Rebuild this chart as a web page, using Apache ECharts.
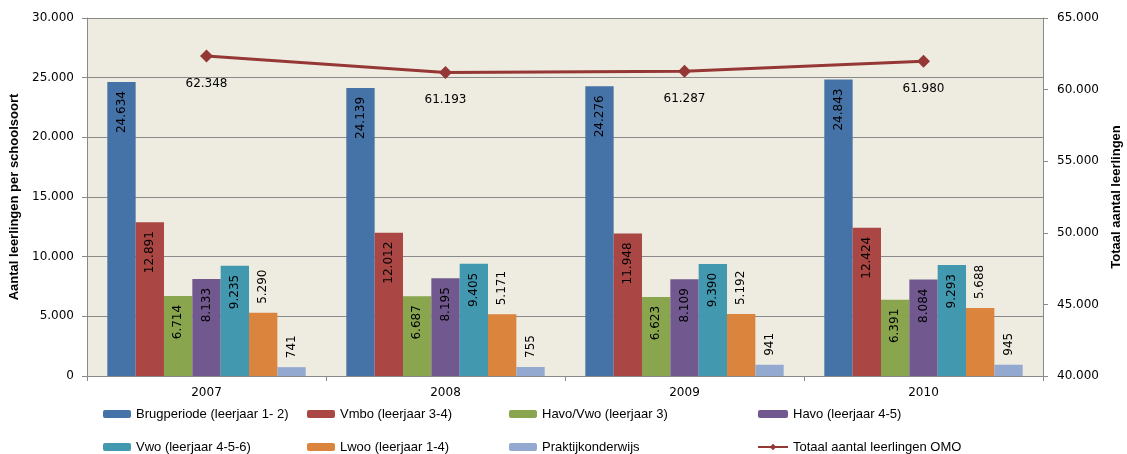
<!DOCTYPE html>
<html>
<head>
<meta charset="utf-8">
<script src="https://cdn.jsdelivr.net/npm/echarts@6/dist/echarts.min.js"></script>
<style>
  html, body { margin: 0; padding: 0; background: #fff; }
  #chart { width: 1127px; height: 454px; }
</style>
</head>
<body>
<div id="chart"></div>
<script>
const years = ['2007', '2008', '2009', '2010'];
const brugperiode = [24634, 24139, 24276, 24843];
const vmbo = [12891, 12012, 11948, 12424];
const havoVwo = [6714, 6687, 6623, 6391];
const havo = [8133, 8195, 8109, 8084];
const vwo = [9235, 9405, 9390, 9293];
const lwoo = [5290, 5171, 5192, 5688];
const praktijk = [741, 755, 941, 945];
const totaal = [62348, 61193, 61287, 61980];

const FONT = 'Liberation Sans';
const NUM_FONT = 'DejaVu Sans';
const GRID_COLOR = '#8a8a8a';

// 12345 -> "12.345"
var fmt = function(n) {
    return String(n).replace(/\B(?=(\d{3})+(?!\d))/g, '.');
};

var insideLabel = {
    show: true,
    position: 'insideTop',
    rotate: 90,
    align: 'right',
    verticalAlign: 'middle',
    distance: 9,
    color: '#000',
    fontFamily: NUM_FONT,
    fontSize: 12,
    formatter: function(p) { return fmt(p.value); }
};

var outsideLabel = {
    show: true,
    position: 'top',
    rotate: 90,
    align: 'left',
    verticalAlign: 'middle',
    distance: 9,
    color: '#000',
    fontFamily: NUM_FONT,
    fontSize: 12,
    formatter: function(p) { return fmt(p.value); }
};

var bar = function(name, data, color, label) {
    return {
        name: name,
        type: 'bar',
        yAxisIndex: 0,
        data: data,
        barGap: '0%',
        barCategoryGap: '17%',
        itemStyle: { color: color },
        label: label
    };
};

var legendText = { color: '#000', fontFamily: FONT, fontSize: 13, lineHeight: 14 };

var legend = function(left, names, w) {
    return {
        orient: 'vertical',
        left: left,
        top: 407,
        itemWidth: w || 28,
        itemHeight: 8,
        itemGap: 19,
        padding: 0,
        selectedMode: false,
        textStyle: legendText,
        data: names
    };
};

var chart = echarts.init(document.getElementById('chart'));

var option = {
    animation: false,
    textStyle: { fontFamily: FONT },
    grid: {
        left: 87,
        right: 84,
        top: 18,
        bottom: 78,
        outerBoundsMode: 'none',
        containLabel: false,
        show: true,
        backgroundColor: '#eeece1',
        borderWidth: 0
    },
    legend: [
        legend(103, ['Brugperiode (leerjaar 1- 2)', 'Vwo (leerjaar 4-5-6)']),
        legend(307, ['Vmbo (leerjaar 3-4)', 'Lwoo (leerjaar 1-4)']),
        legend(509, ['Havo/Vwo (leerjaar 3)', 'Praktijkonderwijs']),
        legend(757, ['Havo (leerjaar 4-5)', 'Totaal aantal leerlingen OMO'], 30)
    ],
    xAxis: {
        type: 'category',
        data: years,
        axisLine: { lineStyle: { color: GRID_COLOR } },
        axisTick: { show: true, length: 5, lineStyle: { color: GRID_COLOR } },
        axisLabel: { color: '#000', fontFamily: NUM_FONT, fontSize: 12, margin: 11 }
    },
    yAxis: [
        {
            type: 'value',
            min: 0,
            max: 30000,
            interval: 5000,
            name: 'Aantal leerlingen per schoolsoort',
            nameLocation: 'middle',
            nameGap: 63,
            nameTextStyle: { color: '#000', fontSize: 13, fontWeight: 'bold' },
            axisLine: { show: true, lineStyle: { color: GRID_COLOR } },
            axisTick: { show: true, length: 5, lineStyle: { color: GRID_COLOR } },
            axisLabel: { color: '#000', fontFamily: NUM_FONT, fontSize: 12, margin: 13, formatter: fmt },
            splitLine: { lineStyle: { color: GRID_COLOR } }
        },
        {
            type: 'value',
            position: 'right',
            min: 40000,
            max: 65000,
            interval: 5000,
            name: 'Totaal aantal leerlingen',
            nameLocation: 'middle',
            nameGap: 67,
            nameRotate: 90,
            nameTextStyle: { color: '#000', fontSize: 13, fontWeight: 'bold' },
            axisLine: { show: true, lineStyle: { color: GRID_COLOR } },
            axisTick: { show: true, length: 5, lineStyle: { color: GRID_COLOR } },
            axisLabel: { color: '#000', fontFamily: NUM_FONT, fontSize: 12, margin: 14, formatter: fmt },
            splitLine: { show: false }
        }
    ],
    series: [
        bar('Brugperiode (leerjaar 1- 2)', brugperiode, '#4572a7', insideLabel),
        bar('Vmbo (leerjaar 3-4)', vmbo, '#aa4643', insideLabel),
        bar('Havo/Vwo (leerjaar 3)', havoVwo, '#89a54e', insideLabel),
        bar('Havo (leerjaar 4-5)', havo, '#71588f', insideLabel),
        bar('Vwo (leerjaar 4-5-6)', vwo, '#4198af', insideLabel),
        bar('Lwoo (leerjaar 1-4)', lwoo, '#db843d', outsideLabel),
        bar('Praktijkonderwijs', praktijk, '#93a9cf', outsideLabel),
        {
            name: 'Totaal aantal leerlingen OMO',
            type: 'line',
            yAxisIndex: 1,
            data: totaal,
            z: 5,
            symbol: 'diamond',
            symbolSize: 13,
            lineStyle: { color: '#953735', width: 3 },
            itemStyle: { color: '#953735' },
            label: {
                show: true,
                position: 'bottom',
                distance: 15,
                color: '#000',
                fontFamily: NUM_FONT,
                fontSize: 12,
                formatter: function(p) { return fmt(p.value); }
            }
        }
    ]
};

chart.setOption(option);
</script>
</body>
</html>
